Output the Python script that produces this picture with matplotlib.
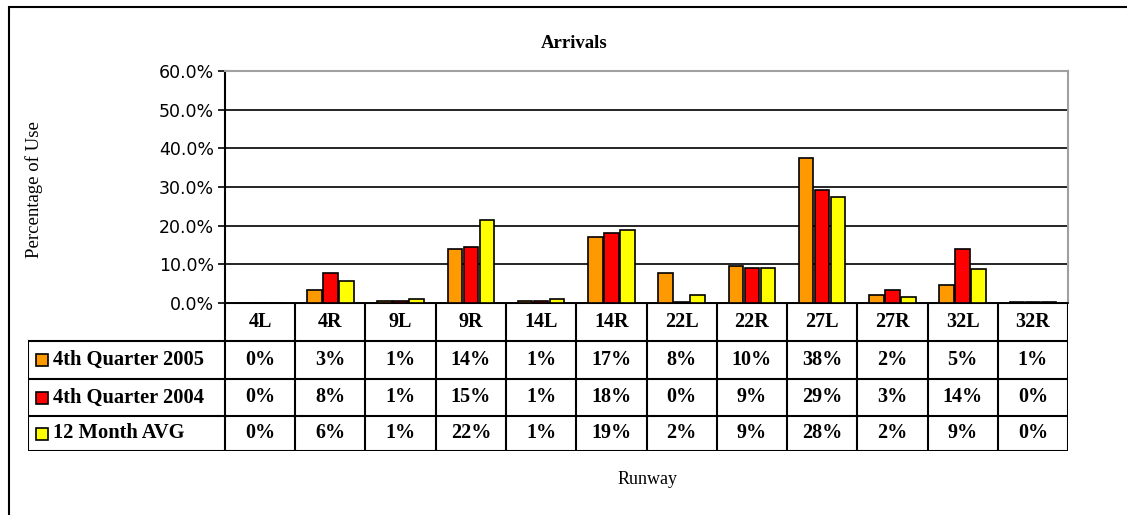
import matplotlib.pyplot as plt
import matplotlib.patches as patches
import numpy as np

runways = ['4L', '4R', '9L', '9R', '14L', '14R', '22L', '22R', '27L', '27R', '32L', '32R']
series = ['4th Quarter 2005', '4th Quarter 2004', '12 Month AVG']
q4_2005 = [0.0, 3.4, 0.6, 14.0, 0.6, 17.1, 7.8, 9.6, 37.6, 2.0, 4.7, 0.3]
q4_2004 = [0.0, 7.8, 0.6, 14.4, 0.6, 18.0, 0.2, 9.0, 29.2, 3.4, 14.0, 0.3]
avg_12m = [0.0, 5.6, 1.1, 21.5, 1.1, 18.9, 2.0, 9.0, 27.5, 1.5, 8.7, 0.3]
table_2005 = ['0%', '3%', '1%', '14%', '1%', '17%', '8%', '10%', '38%', '2%', '5%', '1%']
table_2004 = ['0%', '8%', '1%', '15%', '1%', '18%', '0%', '9%', '29%', '3%', '14%', '0%']
table_avg = ['0%', '6%', '1%', '22%', '1%', '19%', '2%', '9%', '28%', '2%', '9%', '0%']
yticks = [0, 10, 20, 30, 40, 50, 60]
colors = ['#FF9900', '#FF0000', '#FFFF00']

W, H = 1127, 515
fig = plt.figure(figsize=(W / 100, H / 100), dpi=100)
serif = 'Liberation Serif'

# plot area in pixels
left, right, top, bottom = 225, 1068, 71, 303
ax = fig.add_axes([left / W, 1 - bottom / H, (right - left) / W, (bottom - top) / H])

x = np.arange(len(runways))
step = 0.228
bw = 0.205
for i, (vals, c) in enumerate(zip([q4_2005, q4_2004, avg_12m], colors)):
    ax.bar(x + (i - 1) * step, vals, bw, color=c, edgecolor='black', linewidth=1.2, zorder=3)

ax.set_xlim(-0.5, len(runways) - 0.5)
ax.set_ylim(0, 60)
ax.set_yticks(yticks)
ax.set_yticklabels([f'{v:.1f}%' for v in yticks], fontsize=12.5, family='DejaVu Sans')
ax.set_xticks([])
ax.yaxis.grid(True, color='black', linewidth=1.2, zorder=0)
ax.tick_params(axis='y', length=5, width=1.2, direction='out', pad=3)
ax.spines['left'].set_linewidth(1.5)
ax.spines['bottom'].set_linewidth(1.2)
for s in ['top', 'right']:
    ax.spines[s].set_color('#A0A0A0')
    ax.spines[s].set_linewidth(1.5)

# data table under the plot
tleft, tbottom = 28, 451
tax = fig.add_axes([tleft / W, 1 - tbottom / H, (right - tleft) / W, (tbottom - bottom) / H])
cat_w = (right - left) / len(runways)
x0 = -0.5 - (left - tleft) / cat_w
tax.set_xlim(x0, len(runways) - 0.5)
row_edges = [0, 38, 76, 113, 148]
tax.set_ylim(148, 0)
tax.axis('off')
lw = 1.5
# horizontal lines
tax.plot([-0.5, len(runways) - 0.5], [0, 0], color='black', lw=lw)
for yy in row_edges[1:]:
    tax.plot([x0, len(runways) - 0.5], [yy, yy], color='black', lw=lw)
# vertical lines
for k in range(len(runways) + 1):
    tax.plot([k - 0.5, k - 0.5], [0, 148], color='black', lw=lw)
tax.plot([x0, x0], [38, 148], color='black', lw=lw)

tfont = dict(family=serif, fontweight='bold', fontsize=14.5, ha='center', va='center')
for k, r in enumerate(runways):
    tax.text(k, 19, r, **tfont)
rows = [table_2005, table_2004, table_avg]
for j, (name, vals, c) in enumerate(zip(series, rows, colors)):
    yc = (row_edges[j + 1] + row_edges[j + 2]) / 2
    for k, v in enumerate(vals):
        tax.text(k, yc, v, **tfont)
    tax.add_patch(patches.Rectangle((x0 + 0.11, yc - 6), 0.17, 12, facecolor=c,
                                    edgecolor='black', lw=1.2))
    tax.text(x0 + 0.36, yc, name, family=serif, fontweight='bold', fontsize=14.8,
             ha='left', va='center')

fig.text(574 / W, 1 - 43 / H, 'Arrivals', family=serif, fontweight='bold', fontsize=13.5,
         ha='center', va='center')
fig.text(34 / W, 1 - 190 / H, 'Percentage of Use', family=serif, fontsize=13.5,
         rotation=90, ha='center', va='center')
fig.text(648 / W, 1 - 479 / H, 'Runway', family=serif, fontsize=13, ha='center', va='center')

# outer chart border, runs off the right and bottom edges
fig.patches.append(patches.Rectangle((9 / W, -0.1), 1.2, 1 - 7 / H + 0.1, transform=fig.transFigure,
                                     fill=False, edgecolor='black', lw=1.5))

fig.savefig('out.png', dpi=100, facecolor='white')
